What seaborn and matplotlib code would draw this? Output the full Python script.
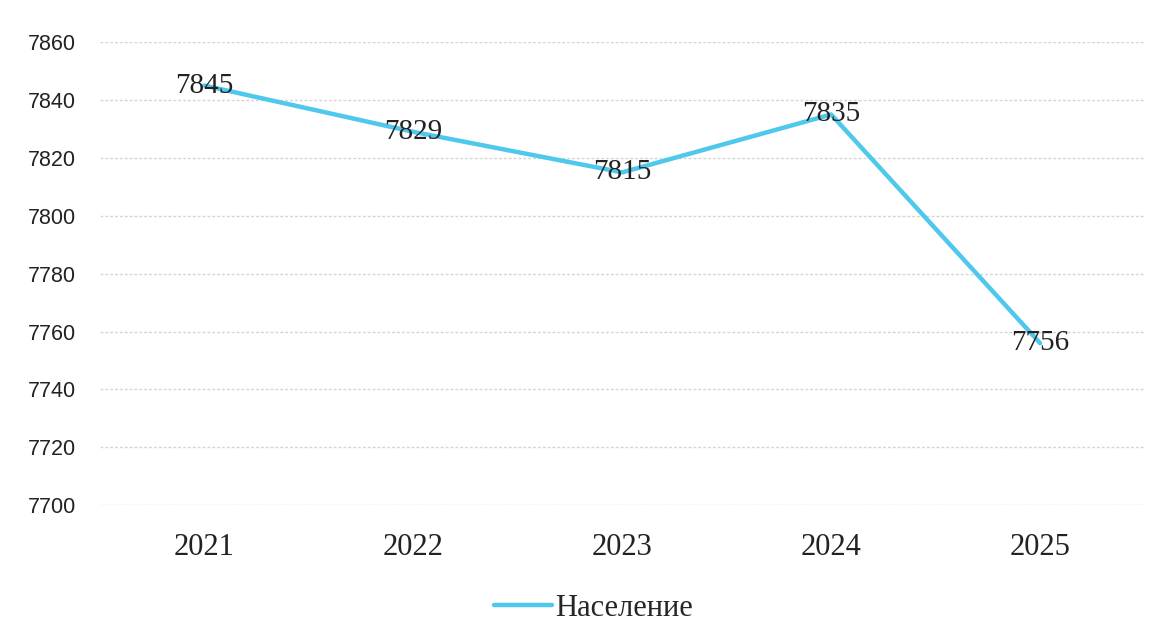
import pandas as pd
import matplotlib.pyplot as plt
import seaborn as sns

# Data
years = ["2021", "2022", "2023", "2024", "2025"]
population = [7845, 7829, 7815, 7835, 7756]
y_ticks = [7700, 7720, 7740, 7760, 7780, 7800, 7820, 7840, 7860]

df = pd.DataFrame({"Год": years, "Население": population})

sns.set_style("white")
line_color = "#4EC8EC"

fig = plt.figure(figsize=(11.62, 6.38), dpi=100)
ax = fig.add_axes([0.086, 0.208, 0.899, 0.726])

sns.lineplot(data=df, x="Год", y="Население", ax=ax, color=line_color,
             linewidth=3.2, label="Население", sort=False)

# value labels centred on the points
for i, v in enumerate(population):
    ax.text(i, v, str(v), ha="center", va="center", fontsize=21,
            family="Liberation Serif", color="#222222")

ax.set_xlim(-0.5, 4.5)
ax.set_ylim(7700, 7860)
ax.set_yticks(y_ticks)
ax.set_yticklabels([str(t) for t in y_ticks], family="Liberation Sans",
                   fontsize=15.5, color="#222222")
ax.set_xticks(range(len(years)))
ax.set_xticklabels(years, family="Liberation Serif", fontsize=22, color="#222222")
ax.tick_params(axis="both", length=0)
ax.tick_params(axis="x", pad=20)
ax.tick_params(axis="y", pad=17)
ax.set_xlabel("")
ax.set_ylabel("")

ax.grid(axis="y", color="#d4d4d4", linestyle=(0, (2, 1.5)), linewidth=1)
for s in ax.spines.values():
    s.set_visible(False)

ax.legend(loc="upper center", bbox_to_anchor=(0.472, -0.132), frameon=False,
          prop={"family": "Liberation Serif", "size": 22}, handlelength=1.9,
          handletextpad=0.1)

fig.savefig("out.png", dpi=100)
